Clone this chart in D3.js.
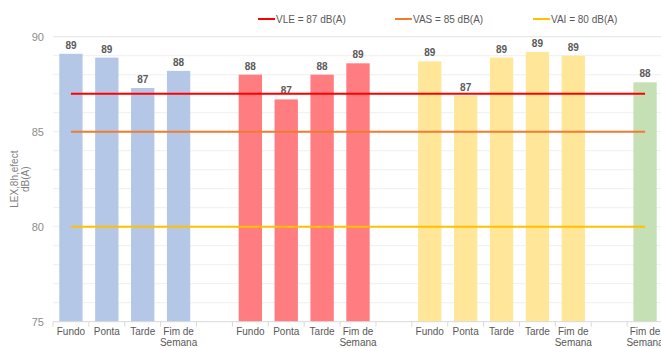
<!DOCTYPE html>
<html>
<head>
<meta charset="utf-8">
<script src="https://cdn.jsdelivr.net/npm/d3@7"></script>
<style>
  body { margin: 0; background: #fff; }
  text { font-family: "Liberation Sans", Arial, sans-serif; }
</style>
</head>
<body>
<script>
// chart data
const labels = ['Fundo', 'Ponta', 'Tarde', 'Fim de Semana', '',
  'Fundo', 'Ponta', 'Tarde', 'Fim de Semana', '',
  'Fundo', 'Ponta', 'Tarde', 'Tarde', 'Fim de Semana', '',
  'Fim de Semana'];
const groups = ['a', 'a', 'a', 'a', '',
  'b', 'b', 'b', 'b', '',
  'c', 'c', 'c', 'c', 'c', '',
  'd'];
const values = [89.1, 88.9, 87.3, 88.2, null,
  88.0, 86.7, 88.0, 88.6, null,
  88.7, 86.9, 88.9, 89.2, 89.0, null,
  87.6];
const limitNames = ['VLE = 87 dB(A)', 'VAS = 85 dB(A)', 'VAI = 80 dB(A)'];
const limitValues = [87, 85, 80];
const yTicks = [75, 80, 85, 90];

const groupColor = { a: '#B4C7E7', b: '#FF7C80', c: '#FFE699', d: '#C5E0B4' };
const limitColor = ['#FF0000', '#ED7D31', '#FFC000'];

const w = 661;
const h = 348;
const mLeft = 53, mRight = 663, mTop = 36.7, mBottom = 321.7;

const data = labels.map((l, i) => ({ id: i, label: l, group: groups[i], value: values[i] }));

let svg = d3.select('body').append('svg').attr('width', w).attr('height', h);

let x = d3.scaleBand().domain(data.map(d => d.id)).range([mLeft, mRight])
  .paddingInner(0.35).paddingOuter(0.175);
let y = d3.scaleLinear().domain([75, 90]).range([mBottom, mTop]);

// gridlines every 1 dB
svg.append('g')
  .selectAll('line')
  .data(d3.range(76, 91))
  .enter()
  .append('line')
  .attr('x1', mLeft).attr('x2', w)
  .attr('y1', d => y(d)).attr('y2', d => y(d))
  .attr('stroke', d => d === 90 ? '#E3E3E3' : '#EFEFEF')
  .attr('stroke-width', 1);

// y axis labels
svg.append('g')
  .selectAll('text')
  .data(yTicks)
  .enter()
  .append('text')
  .attr('x', 44).attr('y', d => y(d) + 4)
  .attr('text-anchor', 'end')
  .attr('font-size', 11)
  .attr('fill', '#8C8C8C')
  .text(d => d);

// y title
let yt = svg.append('text')
  .attr('transform', 'translate(19,' + (mTop + mBottom) / 2 + ') rotate(-90)')
  .attr('text-anchor', 'middle')
  .attr('font-size', 10)
  .attr('fill', '#7F7F7F');
yt.append('tspan').attr('x', 0).attr('dy', -1).text('LEX,8h,efect');
yt.append('tspan').attr('x', 0).attr('dy', 11).text('dB(A)');

// bars
const bars = data.filter(d => d.value !== null);
svg.append('g')
  .selectAll('rect')
  .data(bars)
  .enter()
  .append('rect')
  .attr('x', d => x(d.id))
  .attr('width', x.bandwidth())
  .attr('y', d => y(d.value))
  .attr('height', d => y(75) - y(d.value))
  .attr('fill', d => groupColor[d.group]);

// value labels
svg.append('g')
  .selectAll('text')
  .data(bars)
  .enter()
  .append('text')
  .attr('x', d => x(d.id) + x.bandwidth() / 2)
  .attr('y', d => y(d.value) - 5)
  .attr('text-anchor', 'middle')
  .attr('font-size', 10)
  .attr('font-weight', 'bold')
  .attr('fill', '#595959')
  .text(d => d3.format('.0f')(d.value));

// limit lines
const firstC = x(0) + x.bandwidth() / 2;
const lastC = x(data.length - 1) + x.bandwidth() / 2;
svg.append('g')
  .selectAll('line')
  .data(limitValues)
  .enter()
  .append('line')
  .attr('x1', firstC).attr('x2', lastC)
  .attr('y1', d => y(d)).attr('y2', d => y(d))
  .attr('stroke', (d, i) => limitColor[i])
  .attr('stroke-width', 2);

// x axis
svg.append('line')
  .attr('x1', mLeft).attr('x2', w)
  .attr('y1', mBottom).attr('y2', mBottom)
  .attr('stroke', '#D9D9D9');
svg.append('g')
  .selectAll('line')
  .data(d3.range(0, data.length + 1))
  .enter()
  .append('line')
  .attr('x1', i => mLeft + i * x.step()).attr('x2', i => mLeft + i * x.step())
  .attr('y1', mBottom).attr('y2', mBottom + 5)
  .attr('stroke', '#D9D9D9');

let xl = svg.append('g')
  .selectAll('text')
  .data(data)
  .enter()
  .append('text')
  .attr('text-anchor', 'middle')
  .attr('font-size', 10)
  .attr('fill', '#595959');
xl.each(function (d) {
  const cx = x(d.id) + x.bandwidth() / 2;
  const parts = d.label === 'Fim de Semana' ? ['Fim de', 'Semana'] : [d.label];
  parts.forEach((p, k) => {
    d3.select(this).append('tspan').attr('x', cx).attr('y', 335 + k * 10.5).text(p);
  });
});

// legend
const legendX = [258, 395, 533];
let lg = svg.append('g')
  .selectAll('g')
  .data(limitNames)
  .enter()
  .append('g')
  .attr('transform', (d, i) => 'translate(' + legendX[i] + ',19)');
lg.append('line')
  .attr('x1', 0).attr('x2', 17).attr('y1', 0).attr('y2', 0)
  .attr('stroke', (d, i) => limitColor[i])
  .attr('stroke-width', 2);
lg.append('text')
  .attr('x', 18).attr('y', 3.5)
  .attr('font-size', 10)
  .attr('fill', '#595959')
  .text(d => d);
</script>
</body>
</html>
